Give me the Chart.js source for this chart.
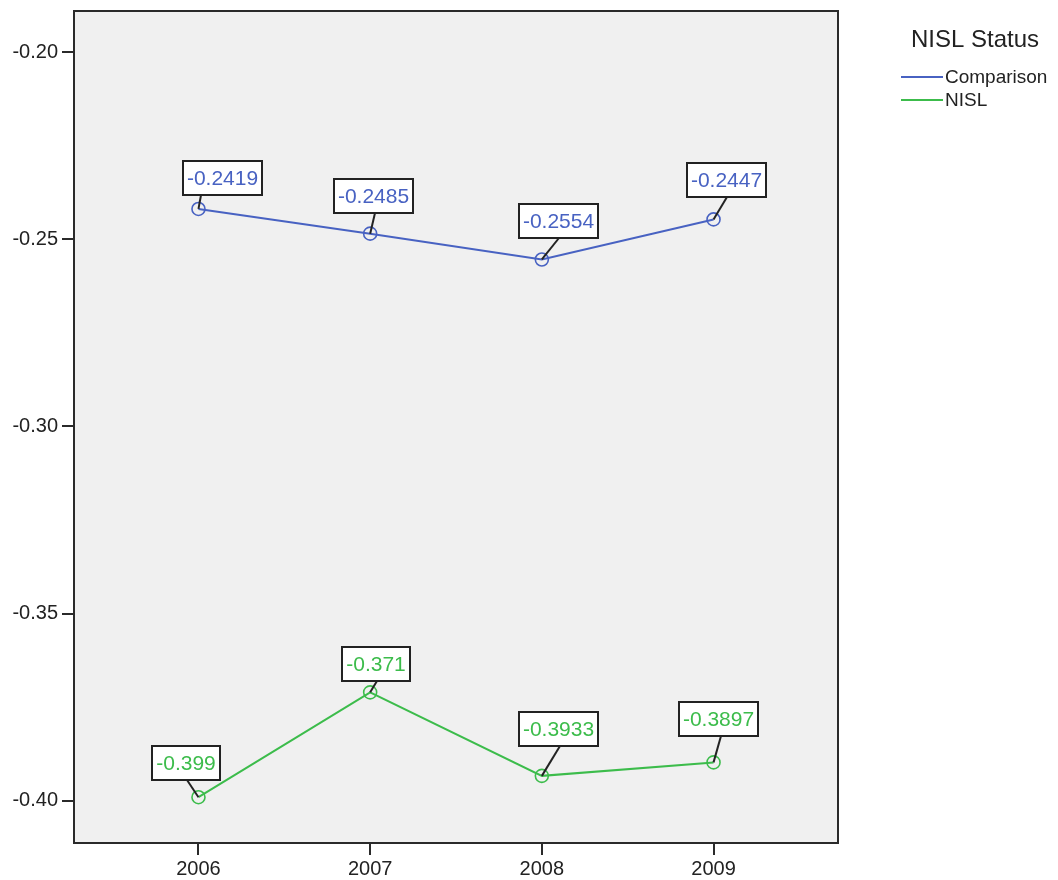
<!DOCTYPE html>
<html>
<head>
<meta charset="utf-8">
<script src="https://cdn.jsdelivr.net/npm/chart.js@4/dist/chart.umd.min.js"></script>
<style>
  html, body { margin: 0; padding: 0; background: #ffffff; }
  #wrap { width: 1058px; height: 880px; }
</style>
</head>
<body>
<div id="wrap"><canvas id="c" width="1058" height="880"></canvas></div>
<script>
// ---- data ----
const years = [2006, 2007, 2008, 2009];
const comparisonValues = [-0.2419, -0.2485, -0.2554, -0.2447];
const nislValues = [-0.399, -0.371, -0.3933, -0.3897];
const comparisonLabels = ['-0.2419', '-0.2485', '-0.2554', '-0.2447'];
const nislLabels = ['-0.399', '-0.371', '-0.3933', '-0.3897'];
const yTicks = [-0.20, -0.25, -0.30, -0.35, -0.40];
const legendTitle = 'NISL Status';
const seriesNames = ['Comparison', 'NISL'];

// ---- styles ----
const BLUE = '#4862c2';
const GREEN = '#3cbc4b';
const FONT = '"Liberation Sans", Arial, sans-serif';
// label box placement relative to the point: [box-left offset, box-bottom offset, leader x within box]
const compLabelPos = [[-15, -14, 18], [-36, -21, 41], [-23, -21, 40], [-27, -22, 40]];
const nislLabelPos = [[-46, -17, 35], [-28, -11, 35], [-23, -30, 41], [-35, -26, 42]];

const plotBg = {
  id: 'plotBg',
  beforeDraw(chart) {
    const {ctx, chartArea: a} = chart;
    ctx.save();
    ctx.fillStyle = '#f0f0f0';
    ctx.fillRect(a.left, a.top, a.right - a.left, a.bottom - a.top);
    ctx.restore();
  },
  afterDatasetsDraw(chart) {
    const {ctx, chartArea: a} = chart;
    ctx.save();
    ctx.strokeStyle = '#2a2a2a';
    ctx.lineWidth = 2;
    ctx.strokeRect(a.left, a.top, a.right - a.left, a.bottom - a.top);
    ctx.restore();
  }
};

const boxLabels = {
  id: 'boxLabels',
  afterDraw(chart) {
    const ctx = chart.ctx;
    const sets = [
      {labels: comparisonLabels, pos: compLabelPos, color: BLUE},
      {labels: nislLabels, pos: nislLabelPos, color: GREEN}
    ];
    ctx.save();
    ctx.font = '21px ' + FONT;
    sets.forEach((s, di) => {
      const meta = chart.getDatasetMeta(di);
      meta.data.forEach((pt, i) => {
        const px = pt.x, py = pt.y;
        const [dx, dy, lx] = s.pos[i];
        const tw = ctx.measureText(s.labels[i]).width;
        const w = Math.round(tw + 8), h = 34;
        const left = Math.round(px + dx), bottom = Math.round(py + dy);
        const top = bottom - h;
        // leader
        ctx.strokeStyle = '#222222';
        ctx.lineWidth = 2;
        ctx.beginPath();
        ctx.moveTo(left + lx, bottom);
        ctx.lineTo(px, py);
        ctx.stroke();
        // box
        ctx.fillStyle = '#ffffff';
        ctx.fillRect(left, top, w, h);
        ctx.strokeStyle = '#222222';
        ctx.lineWidth = 2;
        ctx.strokeRect(left, top, w, h);
        // text
        ctx.fillStyle = s.color;
        ctx.textAlign = 'center';
        ctx.textBaseline = 'middle';
        ctx.fillText(s.labels[i], left + w / 2, top + h / 2 + 1);
      });
    });
    // legend
    ctx.fillStyle = '#222222';
    ctx.textAlign = 'left';
    ctx.textBaseline = 'middle';
    ctx.font = '24px ' + FONT;
    ctx.fillText(legendTitle, 911, 40);
    ctx.font = '19px ' + FONT;
    const colors = [BLUE, GREEN];
    seriesNames.forEach((name, i) => {
      const y = 77 + i * 23;
      ctx.strokeStyle = colors[i];
      ctx.lineWidth = 2;
      ctx.beginPath();
      ctx.moveTo(901, y);
      ctx.lineTo(943, y);
      ctx.stroke();
      ctx.fillStyle = '#222222';
      ctx.fillText(name, 945, y + 1);
    });
    ctx.restore();
  }
};

const mk = (vals) => years.map((yr, i) => ({x: yr, y: vals[i]}));

new Chart(document.getElementById('c'), {
  type: 'line',
  data: {
    datasets: [
      {
        label: seriesNames[0], data: mk(comparisonValues),
        borderColor: BLUE, borderWidth: 2, backgroundColor: 'transparent',
        pointRadius: 6.5, pointBorderWidth: 1.6, pointBorderColor: BLUE, pointBackgroundColor: 'transparent',
        tension: 0
      },
      {
        label: seriesNames[1], data: mk(nislValues),
        borderColor: GREEN, borderWidth: 2, backgroundColor: 'transparent',
        pointRadius: 6.5, pointBorderWidth: 1.6, pointBorderColor: GREEN, pointBackgroundColor: 'transparent',
        tension: 0
      }
    ]
  },
  options: {
    responsive: false,
    animation: false,
    devicePixelRatio: 1,
    layout: { padding: { top: 11, right: 220, left: 0, bottom: 0 } },
    plugins: { legend: { display: false }, tooltip: { enabled: false } },
    scales: {
      x: {
        type: 'linear',
        min: 2005.275, max: 2009.725,
        afterBuildTicks(axis) { axis.ticks = years.map(v => ({value: v})); },
        afterFit(axis) { axis.height = 37; axis.paddingLeft = 0; axis.paddingRight = 0; },
        grid: { drawOnChartArea: false, drawTicks: true, tickLength: 12, color: '#2a2a2a', lineWidth: 2 },
        border: { display: true, color: '#2a2a2a', width: 2 },
        ticks: { color: '#222222', font: { family: FONT, size: 20 }, padding: 2,
                 maxRotation: 0, autoSkip: false,
                 callback: (v) => String(v) }
      },
      y: {
        type: 'linear',
        min: -0.41123, max: -0.18904,
        afterBuildTicks(axis) { axis.ticks = yTicks.map(v => ({value: v})); },
        afterFit(axis) { axis.width = 74; axis.paddingTop = 0; axis.paddingBottom = 0; },
        grid: { drawOnChartArea: false, drawTicks: true, tickLength: 12, color: '#2a2a2a', lineWidth: 2 },
        border: { display: true, color: '#2a2a2a', width: 2 },
        ticks: { color: '#222222', font: { family: FONT, size: 20 }, padding: 4, autoSkip: false,
                 callback: (v) => Number(v).toFixed(2) }
      }
    }
  },
  plugins: [plotBg, boxLabels]
});
</script>
</body>
</html>
